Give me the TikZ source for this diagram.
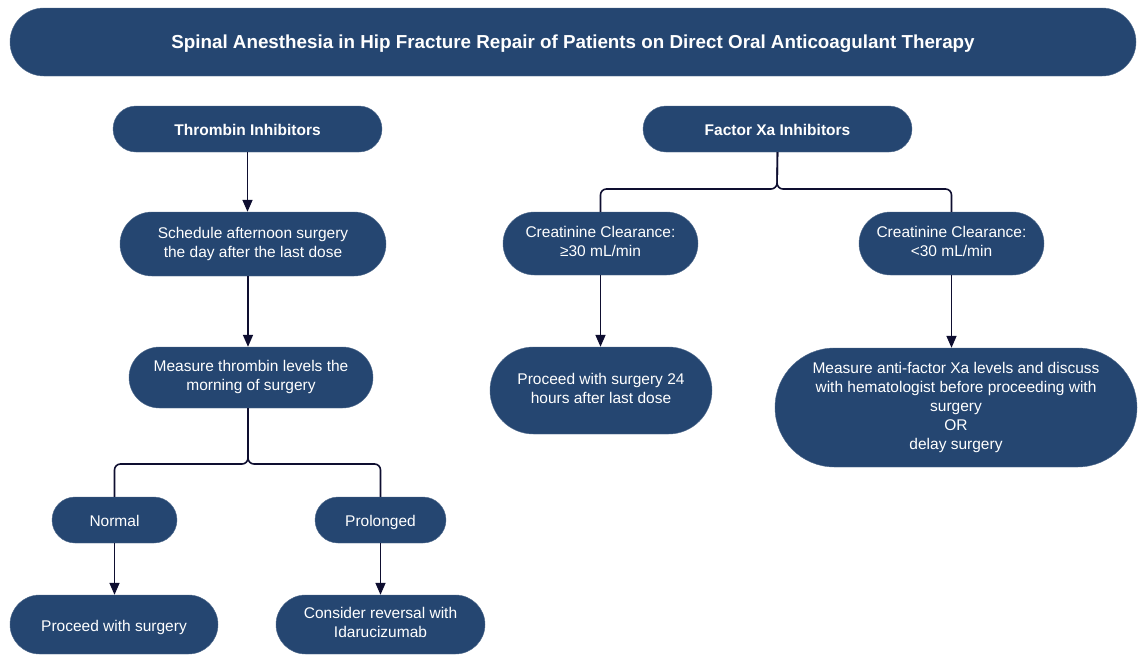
\documentclass[tikz,border=0pt]{standalone}
\usepackage{fontspec}
\setmainfont{Liberation Sans}
\usepackage{tikz}
\usetikzlibrary{arrows.meta,shapes.misc,calc}
\definecolor{boxblue}{RGB}{37, 70, 113}
\definecolor{linkdark}{RGB}{14, 14, 48}
\newcommand\pillstrut{\rule[-3.5pt]{0pt}{20pt}}

\begin{document}
\begin{tikzpicture}[x=1pt, y=-1pt, >=Triangle,
    pill/.style={rounded rectangle, fill=boxblue, draw=boxblue!80!white, text=white, align=center, inner sep=0pt,
        font=\fontsize{15.5}{19}\selectfont, execute at begin node=\pillstrut, execute at end node=\pillstrut},
    head/.style={pill, font=\bfseries\fontsize{15.5}{19}\selectfont},
    link/.style={draw=linkdark, line width=1.6pt},
    arrow/.style={link, -{Triangle[length=12pt,width=10pt]}}]
    % Canvas
    \fill[white] (0,0) rectangle (1138,654);
    \useasboundingbox (0,0) rectangle (1138,654);

    % Title banner
    \node[pill, font=\bfseries\fontsize{18.8}{22}\selectfont, minimum width=1126pt, minimum height=68pt] (title) at (573,42) {Spinal Anesthesia in Hip Fracture Repair of Patients on Direct Oral Anticoagulant Therapy};

    % Thrombin inhibitor branch
    \node[head, minimum width=269pt, minimum height=46pt] (thr) at (247.5,129) {Thrombin Inhibitors};
    \node[pill, minimum width=266pt, minimum height=64pt] (sched) at (253,244) {Schedule afternoon surgery\\the day after the last dose};
    \node[pill, minimum width=244pt, minimum height=61pt] (meas) at (251,377.5) {Measure thrombin levels the\\morning of surgery};
    \node[pill, minimum width=125pt, minimum height=46pt] (norm) at (114.5,520) {Normal};
    \node[pill, minimum width=131pt, minimum height=46pt] (prol) at (380.5,520) {Prolonged};
    \node[pill, minimum width=208pt, minimum height=59pt] (proc) at (114,624.5) {Proceed with surgery};
    \node[pill, minimum width=209pt, minimum height=59pt] (rev) at (380.5,624.5) {Consider reversal with\\Idarucizumab};

    % Factor Xa inhibitor branch
    \node[head, minimum width=269pt, minimum height=46pt] (fxa) at (777.5,129) {Factor Xa Inhibitors};
    \node[pill, minimum width=195pt, minimum height=63pt] (crA) at (600.5,243.5) {Creatinine Clearance:\\≥30 mL/min};
    \node[pill, minimum width=185pt, minimum height=63pt] (crB) at (951.5,243.5) {Creatinine Clearance:\\<30 mL/min};
    \node[pill, minimum width=222pt, minimum height=87pt] (p24) at (601,390.5) {Proceed with surgery 24\\hours after last dose};
    \node[pill, minimum width=362pt, minimum height=119pt] (hem) at (956,407.5) {Measure anti-factor Xa levels and discuss\\with hematologist before proceeding with\\surgery\\OR\\delay surgery};

    % Connectors, left
    \coordinate (jT) at (248,464);
    \draw[arrow] (thr.south) -- (thr.south |- sched.north);
    \draw[arrow] (sched.south -| jT) -- (meas.north -| jT);
    \draw[link, rounded corners=6pt] (meas.south -| jT) -- (jT) -| (norm.north);
    \draw[link, rounded corners=6pt] (meas.south -| jT) -- (jT) -| (prol.north);
    \draw[arrow] (norm.south) -- (norm.south |- proc.north);
    \draw[arrow] (prol.south) -- (prol.south |- rev.north);

    % Connectors, right
    \coordinate (jX) at (777,189);
    \draw[link, rounded corners=6pt] (fxa.south) -- (jX) -| (crA.north);
    \draw[link, rounded corners=6pt] (fxa.south) -- (jX) -| (crB.north);
    \draw[arrow] (crA.south) -- (crA.south |- p24.north);
    \draw[arrow] (crB.south) -- (crB.south |- hem.north);
\end{tikzpicture}
\end{document}
